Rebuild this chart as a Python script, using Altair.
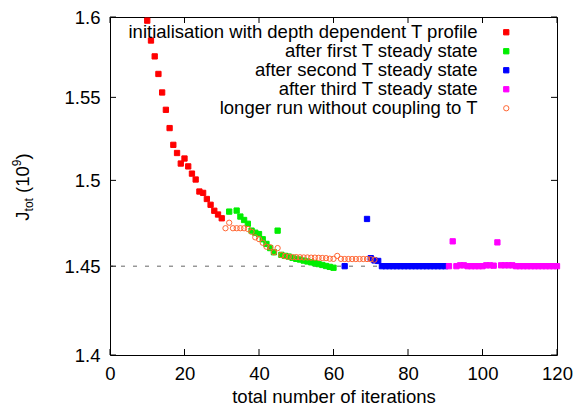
import altair as alt
import pandas as pd

# ---------------- data ----------------
series_names = [
    "initialisation with depth dependent T profile",
    "after first T steady state",
    "after second T steady state",
    "after third T steady state",
    "longer run without coupling to T",
]
fill_colors = ["#ff0000", "#00ee00", "#0000ff", "#ff00ff", "transparent"]
stroke_colors = ["#ff0000", "#00ee00", "#0000ff", "#ff00ff", "#ff6633"]
shapes = ["square", "square", "square", "square", "circle"]

red_x = [10, 11, 12, 13, 14, 15, 16, 17, 18, 19, 20, 21, 22, 23, 24, 25, 26, 27, 28, 29, 30]
red_y = [1.5977, 1.5852, 1.5753, 1.5644, 1.5530, 1.5424, 1.5313, 1.5212, 1.5163, 1.5100,
         1.5130, 1.5083, 1.5040, 1.5005, 1.4934, 1.4926, 1.4890, 1.4856, 1.4821, 1.4799, 1.4777]

green_x = [32, 34, 35, 36, 37, 38, 39, 40, 41, 42, 43, 44, 45, 46, 47, 48, 49, 50,
           51, 52, 53, 54, 55, 56, 57, 58, 59, 60]
green_y = [1.4816, 1.4822, 1.4787, 1.4767, 1.4745, 1.4705, 1.4693, 1.4685, 1.4655, 1.4628,
           1.4604, 1.4580, 1.4705, 1.4565, 1.4559, 1.4555, 1.4548, 1.4542, 1.4538, 1.4532,
           1.4527, 1.4522, 1.4517, 1.4512, 1.4507, 1.4501, 1.4496, 1.4491]

blue_x = [63, 69, 70, 71, 72, 73, 74, 75, 76, 77, 78, 79, 80, 81, 82, 83, 84, 85, 86, 87, 88, 89, 90]
blue_y = [1.4500, 1.4773, 1.4546, 1.4533, 1.4530, 1.4500, 1.4500, 1.4500, 1.4500, 1.4500,
          1.4500, 1.4500, 1.4500, 1.4500, 1.4500, 1.4500, 1.4500, 1.4500, 1.4500, 1.4500,
          1.4500, 1.4500, 1.4500]

magenta_x = [91, 92, 93, 94, 95, 96, 97, 98, 99, 100, 101, 102, 103, 104, 105, 106, 107,
             108, 109, 110, 111, 112, 113, 114, 115, 116, 117, 118, 119, 120]
magenta_y = [1.4500, 1.4643, 1.4500, 1.4505, 1.4505, 1.4500, 1.4500, 1.4500, 1.4500, 1.4500,
             1.4505, 1.4505, 1.4503, 1.4637, 1.4505, 1.4505, 1.4505, 1.4505, 1.4500, 1.4500,
             1.4500, 1.4500, 1.4500, 1.4500, 1.4500, 1.4500, 1.4500, 1.4500, 1.4500, 1.4500]

orange_x = [31, 32, 33, 34, 35, 36, 37, 38, 39, 40, 41, 42, 43, 44, 45, 46, 47, 48, 49, 50,
            51, 52, 53, 54, 55, 56, 57, 58, 59, 60, 61, 62, 63, 64, 65, 66, 67, 68, 69, 70, 71]
orange_y = [1.4719, 1.4751, 1.4719, 1.4719, 1.4719, 1.4719, 1.4715, 1.4698, 1.4666, 1.4656,
            1.4635, 1.4612, 1.4609, 1.4580, 1.4604, 1.4564, 1.4558, 1.4554, 1.4552, 1.4552,
            1.4551, 1.4550, 1.4550, 1.4549, 1.4549, 1.4548, 1.4547, 1.4546, 1.4543, 1.4542,
            1.4559, 1.4542, 1.4541, 1.4541, 1.4541, 1.4541, 1.4541, 1.4541, 1.4541, 1.4540, 1.4537]

reference_level = [1.45]
x_ticks = [0, 20, 40, 60, 80, 100, 120]
y_ticks = [1.4, 1.45, 1.5, 1.55, 1.6]

# ---------------- build table ----------------
frames = []
for name, xs, ys in zip(series_names,
                        [red_x, green_x, blue_x, magenta_x, orange_x],
                        [red_y, green_y, blue_y, magenta_y, orange_y]):
    frames.append(pd.DataFrame({"iter": xs, "J": ys, "series": name}))
df = pd.concat(frames, ignore_index=True)
df["order"] = range(len(df))

W, H = 447, 338
FONT = "Liberation Sans"
FS = 18.5
SUB = 12

xscale = alt.Scale(domain=[0, 120], nice=False, zero=False)
yscale = alt.Scale(type="log", domain=[1.4, 1.6], nice=False)
x_axis = alt.Axis(values=x_ticks, title="total number of iterations", ticks=False,
                  domain=False, grid=False, labelPadding=9, titlePadding=5, format="d",
                  labelFlush=False)
y_axis = alt.Axis(values=y_ticks, title=None, ticks=False, domain=False, grid=False,
                  labelPadding=10, format="~g", labelFlush=False)

legend = alt.Legend(
    title=None, orient="none", legendX=387, legendY=6,
    labelAlign="right", labelOffset={"expr": "-38"}, labelFontSize=FS, labelFont=FONT,
    labelColor="#000000", symbolSize=28, symbolStrokeWidth=1,
    rowPadding={"expr": "-1.5"}, labelLimit=0,
)

points = alt.Chart(df).mark_point(size=28, strokeWidth=1, opacity=1).encode(
    x=alt.X("iter:Q", scale=xscale, axis=x_axis),
    y=alt.Y("J:Q", scale=yscale, axis=y_axis),
    fill=alt.Fill("series:N", scale=alt.Scale(domain=series_names, range=fill_colors), legend=legend),
    stroke=alt.Stroke("series:N", scale=alt.Scale(domain=series_names, range=stroke_colors), legend=legend),
    shape=alt.Shape("series:N", scale=alt.Scale(domain=series_names, range=shapes), legend=legend),
    order=alt.Order("order:Q"),
)

ref = alt.Chart(pd.DataFrame({"level": reference_level})).mark_rule(
    color="#666666", strokeWidth=1, strokeDash=[4, 8]
).encode(y=alt.Y("level:Q", scale=yscale, axis=y_axis))

xt = pd.DataFrame({"t": x_ticks})
yt = pd.DataFrame({"t": y_ticks})
tick_style = dict(color="#000000", strokeWidth=1)
xt_bottom = alt.Chart(xt).mark_rule(**tick_style).encode(
    x=alt.X("t:Q", scale=xscale, axis=x_axis), y=alt.value(H), y2=alt.value(H - 6))
xt_top = alt.Chart(xt).mark_rule(**tick_style).encode(
    x=alt.X("t:Q", scale=xscale, axis=x_axis), y=alt.value(0), y2=alt.value(6))
yt_left = alt.Chart(yt).mark_rule(**tick_style).encode(
    y=alt.Y("t:Q", scale=yscale, axis=y_axis), x=alt.value(0), x2=alt.value(6))
yt_right = alt.Chart(yt).mark_rule(**tick_style).encode(
    y=alt.Y("t:Q", scale=yscale, axis=y_axis), x=alt.value(W), x2=alt.value(W - 6))

# y-axis title "J_tot (10^9)" composed of rotated text pieces
def ytxt(s, x, y, size):
    return alt.Chart(pd.DataFrame({"a": [0]})).mark_text(
        angle=270, align="left", baseline="alphabetic", font=FONT, fontSize=size, color="#000000"
    ).encode(x=alt.value(x), y=alt.value(y), text=alt.value(s))

ybase = -81
wJ = 0.5 * FS
wtot = 1.112 * SUB
wspace = 0.278 * FS
wopen = 1.445 * FS
w9 = 0.556 * SUB
wclose = 0.333 * FS
total = wJ + wtot + wspace + wopen + w9 + wclose
y0 = H / 2 + total / 2 + 1
title_parts = alt.layer(
    ytxt("J", ybase, y0, FS),
    ytxt("tot", ybase + 4, y0 - wJ, SUB),
    ytxt("(10", ybase, y0 - wJ - wtot - wspace, FS),
    ytxt("9", ybase - 8, y0 - wJ - wtot - wspace - wopen, SUB),
    ytxt(")", ybase, y0 - wJ - wtot - wspace - wopen - w9, FS),
)

chart = alt.layer(
    ref, xt_bottom, xt_top, yt_left, yt_right, points, title_parts
).properties(
    width=W, height=H,
    autosize=alt.AutoSizeParams(type="none"),
    padding={"left": 110, "top": 17, "right": 19, "bottom": 54},
    background="white",
).configure_view(
    stroke="#000000", strokeWidth=1
).configure_axis(
    labelFont=FONT, labelFontSize=FS, labelColor="#000000",
    titleFont=FONT, titleFontSize=FS, titleFontWeight="normal", titleColor="#000000",
).configure_legend(
    labelFont=FONT, labelFontSize=FS
)

chart.save("out.html", embed_options={"renderer": "svg", "actions": False})
